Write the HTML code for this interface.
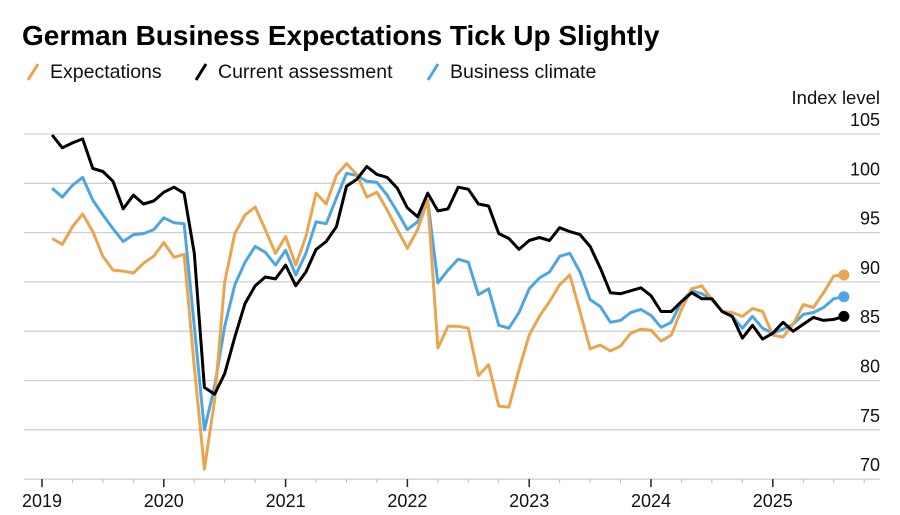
<!DOCTYPE html>
<html><head><meta charset="utf-8"><style>
html,body{margin:0;padding:0;background:#fff;}
body{width:900px;height:510px;overflow:hidden;font-family:"Liberation Sans",Arial,sans-serif;}
</style></head><body>
<svg id="chart" width="900" height="510" xmlns="http://www.w3.org/2000/svg" font-family="Liberation Sans, Arial, sans-serif">
<text x="22" y="45" font-size="28" font-weight="bold" fill="#000">German Business Expectations Tick Up Slightly</text>
<g>
<g><line x1="28" y1="80" x2="38" y2="64" stroke="#e9a54f" stroke-width="3"/><text x="50" y="78" font-size="19.5" fill="#111">Expectations</text></g>
<g><line x1="196" y1="80" x2="206" y2="64" stroke="#000" stroke-width="3"/><text x="218" y="78" font-size="19.5" fill="#111">Current assessment</text></g>
<g><line x1="428" y1="80" x2="438" y2="64" stroke="#4da6e2" stroke-width="3"/><text x="450" y="78" font-size="19.5" fill="#111">Business climate</text></g>
</g>
<text x="880" y="104" font-size="18.5" text-anchor="end" fill="#111">Index level</text>
<g id="grid"></g><g id="xaxis"></g><g id="series"></g>
</svg>
<script>
const yTicks=[70,75,80,85,90,95,100,105];
const yearLabels=["2019","2020","2021","2022","2023","2024","2025"];
const startMonth=1; // Feb 2019 (months since Jan 2019)
const expectations=[94.4,93.8,95.6,96.9,95.1,92.6,91.2,91.1,90.9,91.9,92.6,94.0,92.5,92.8,81.4,71.0,78.0,90.0,94.9,96.8,97.6,95.3,92.9,94.6,91.7,94.6,99.0,97.9,100.8,102.0,100.9,98.6,99.1,97.3,95.3,93.4,95.3,98.3,83.3,85.5,85.5,85.3,80.5,81.6,77.4,77.3,81.1,84.6,86.5,88.0,89.7,90.7,87.0,83.2,83.6,83.0,83.5,84.8,85.2,85.1,84.0,84.6,87.2,89.3,89.6,88.2,87.0,86.9,86.5,87.3,87.0,84.6,84.4,85.7,87.7,87.4,88.9,90.6,90.7];
const current=[104.9,103.6,104.1,104.5,101.5,101.2,100.2,97.4,98.8,97.9,98.2,99.1,99.6,99.0,92.9,79.3,78.6,80.7,84.4,87.8,89.6,90.5,90.3,91.7,89.6,91.0,93.3,94.1,95.6,99.7,100.4,101.7,100.9,100.6,99.5,97.5,96.6,99.0,97.2,97.4,99.6,99.4,97.9,97.7,94.9,94.4,93.3,94.2,94.5,94.2,95.5,95.1,94.8,93.6,91.4,88.9,88.8,89.1,89.4,88.6,87.0,87.0,88.0,88.9,88.3,88.3,87.0,86.5,84.3,85.6,84.2,84.8,85.9,85.0,85.7,86.4,86.1,86.2,86.5];
const climate=[99.5,98.6,99.8,100.6,98.3,96.8,95.4,94.1,94.8,94.9,95.3,96.5,96.0,95.9,85.5,75.0,79.4,85.5,89.7,92.0,93.6,93.0,91.7,93.2,90.7,92.9,96.1,95.9,98.5,101.0,100.8,100.2,100.1,98.8,97.1,95.3,96.1,98.3,89.9,91.2,92.3,92.0,88.7,89.3,85.6,85.3,86.9,89.3,90.4,91.0,92.6,92.9,91.0,88.2,87.5,85.9,86.1,86.9,87.2,86.6,85.4,85.9,88.0,89.1,88.8,88.2,87.0,86.5,85.3,86.5,85.3,84.8,85.2,85.7,86.7,86.9,87.4,88.3,88.5];
const NS="http://www.w3.org/2000/svg";
const x=m=>42+10.15*m;
const y=v=>134+(105-v)*9.86;
function mk(tag,attrs,parent){const e=document.createElementNS(NS,tag);for(const k in attrs)e.setAttribute(k,attrs[k]);parent.appendChild(e);return e;}
const grid=document.getElementById('grid');
yTicks.forEach(v=>{
  if(v>70){const l=mk('line',{x1:24,x2:880,y1:y(v),y2:y(v),stroke:'#d0d0d0','stroke-width':1.3},grid);
  
  }
  const t=mk('text',{x:880,y:y(v)-8,'font-size':18,'text-anchor':'end',fill:'#111'},grid);
  t.textContent=v;
  
  
});
const xa=document.getElementById('xaxis');
const base=mk('line',{x1:24,x2:880,y1:y(70),y2:y(70),stroke:'#ccc','stroke-width':1.3},xa);


for(let q=0;q<=27;q++){
  const m=q*3;const major=q%4===0;
  const t=mk('line',{x1:x(m),x2:x(m),y1:y(70),y2:y(70)+(major?8:4),stroke:major?'#222':'#bbb','stroke-width':major?1.5:1},xa);
  
  
}
yearLabels.forEach((lab,i)=>{
  const t=mk('text',{x:x(i*12),y:507,'font-size':18,'text-anchor':'middle',fill:'#111'},xa);
  t.textContent=lab;
  
  
});
const ser=document.getElementById('series');
function draw(arr,color,name){
  const pts=arr.map((v,i)=>x(startMonth+i).toFixed(1)+','+y(v).toFixed(1)).join(' ');
  const p=mk('polyline',{points:pts,fill:'none',stroke:color,'stroke-width':3,'stroke-linejoin':'round'},ser);
  
  
  const n=arr.length-1;
  const c=mk('circle',{cx:x(startMonth+n),cy:y(arr[n]),r:5.5,fill:color},ser);
  
  
}
draw(climate,'#4da6e2','business-climate');
draw(expectations,'#e9a54f','expectations');
draw(current,'#000000','current-assessment');
</script>
</body></html>
